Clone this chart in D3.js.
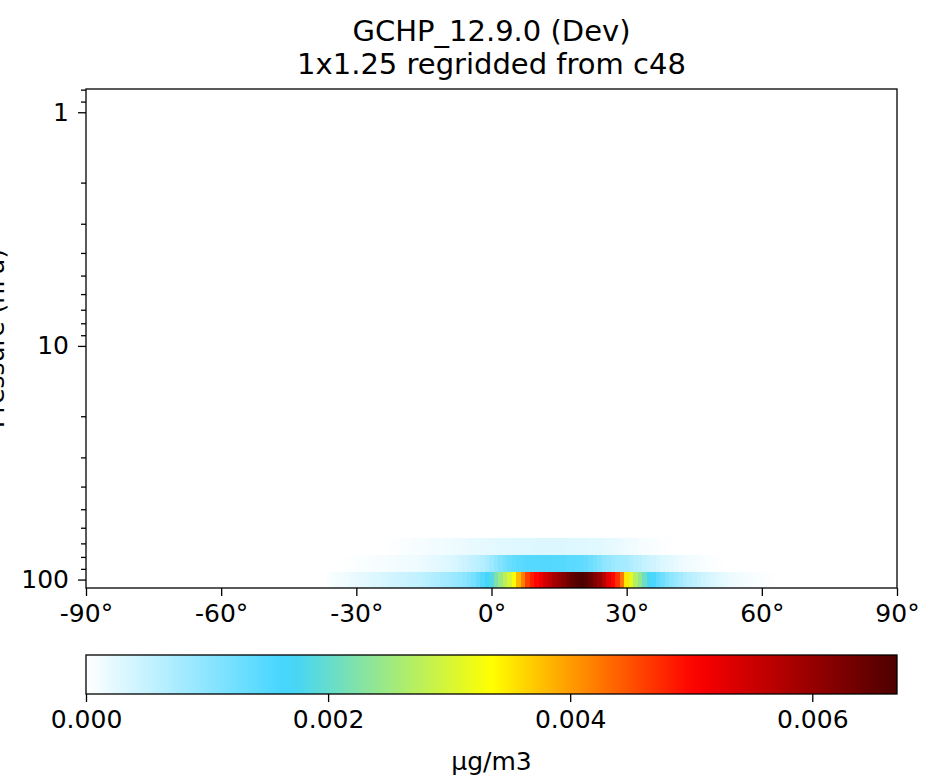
<!DOCTYPE html>
<html>
<head>
<meta charset="utf-8">
<script src="https://cdn.jsdelivr.net/npm/d3@7"></script>
<style>
  body { margin: 0; background: #fff; }
  text { font-family: "DejaVu Sans", sans-serif; }
</style>
</head>
<body>
<div id="chart"></div>
<script>
// ---- data ----
const titleLines = ["GCHP_12.9.0 (Dev)", "1x1.25 regridded from c48"];
const yLabel = "Pressure (hPa)";
const unitLabel = "µg/m3";

const latTicks = [-90, -60, -30, 0, 30, 60, 90];
const pressureMajor = [1, 10, 100];
const pressureMinor = [0.8, 0.9, 2, 3, 4, 5, 6, 7, 8, 9, 20, 30, 40, 50, 60, 70, 80, 90];
const cbarTicks = [0, 0.002, 0.004, 0.006];

// level edges (hPa), bottom of plot up to the top of the plot
const levelEdges = [108.663, 92.366, 78.512, 66.603];
const pressureTop = 0.7951;

// first latitude (cell centre, deg) of each row's values
const rowStartLat = [-36, -32, -22];
// values in 1e-3 µg/m3, one per 1 degree of latitude
const level1 = [0.05, 0.08, 0.1, 0.12, 0.15, 0.18, 0.2, 0.22, 0.25, 0.27, 0.3, 0.32, 0.35, 0.37, 0.4, 0.42, 0.45, 0.48,
  0.5, 0.53, 0.56, 0.6, 0.64, 0.68, 0.72, 0.76, 0.8, 0.85, 0.9, 0.95, 1.02, 1.1, 1.2, 1.35, 1.5, 1.7,
  1.85, 2.2, 2.5, 2.75, 3.0, 3.3, 3.8, 4.2, 4.6, 4.85, 5.0, 5.2, 5.45, 5.65, 5.85, 6.0, 6.15, 6.35, 6.5, 6.6, 6.7,
  6.6, 6.45, 6.2, 6.0, 5.7, 5.3, 5.0, 4.7, 4.25, 3.5, 3.1, 2.7, 2.4, 2.05, 1.75, 1.6, 1.4, 1.25, 1.1, 1.0, 0.9,
  0.8, 0.72, 0.64, 0.57, 0.5, 0.44, 0.38, 0.33, 0.28, 0.24, 0.2, 0.17, 0.14, 0.12, 0.1, 0.08, 0.06, 0.05, 0.04, 0.03, 0.02];
const level2 = [0.02, 0.03, 0.04, 0.05, 0.05, 0.06, 0.07, 0.07, 0.08, 0.09, 0.1, 0.11, 0.12, 0.13, 0.14, 0.15,
  0.16, 0.18, 0.2, 0.22, 0.24, 0.26, 0.29, 0.32, 0.35, 0.4, 0.45, 0.5, 0.55, 0.6, 0.66, 0.74,
  0.85, 0.98, 1.1, 1.2, 1.3, 1.38, 1.42, 1.45, 1.47, 1.48, 1.49, 1.5, 1.5, 1.5, 1.49, 1.48, 1.47, 1.46, 1.45,
  1.43, 1.4, 1.35, 1.28, 1.2, 1.1, 1.0, 0.94, 0.88, 0.82, 0.79, 0.76, 0.7, 0.64, 0.58, 0.52, 0.47, 0.42, 0.37,
  0.32, 0.28, 0.24, 0.2, 0.17, 0.14, 0.12, 0.1, 0.08, 0.06, 0.05, 0.04, 0.03, 0.02];
const level3 = [0.02, 0.03, 0.04, 0.05, 0.06, 0.07, 0.08, 0.09, 0.1, 0.11, 0.12, 0.13, 0.14, 0.15, 0.16, 0.17,
  0.18, 0.19, 0.2, 0.21, 0.22, 0.23,
  0.24, 0.25, 0.26, 0.27, 0.27, 0.28, 0.28, 0.29, 0.29, 0.29, 0.3, 0.3, 0.3, 0.3, 0.3, 0.3, 0.3, 0.29, 0.29,
  0.29, 0.28, 0.28, 0.27, 0.27, 0.26, 0.25, 0.23, 0.21, 0.19, 0.17, 0.15, 0.13, 0.11, 0.09, 0.07, 0.06, 0.05,
  0.04, 0.03, 0.02];
const levels = [level1, level2, level3];

// colormap stops (white - cyan - yellow - red - dark red)
const cmapColors = ["#ffffff", "#40d4ff", "#ffff00", "#ff0000", "#4d0000"];

// ---- layout ----
const width = 944, height = 783;
const plot = { left: 86, right: 897, top: 89, bottom: 588 };
const cbar = { top: 655, bottom: 694 };

const svg = d3.select("#chart").append("svg")
  .attr("width", width)
  .attr("height", height);

const x = d3.scaleLinear().domain([-90, 90]).range([plot.left, plot.right]);
const y = d3.scaleLog().domain([levelEdges[0], pressureTop]).range([plot.bottom, plot.top]);

const vmax = d3.max(levels.flat()) * 1e-3;
const color = d3.scaleLinear()
  .domain(cmapColors.map((c, i) => vmax * i / (cmapColors.length - 1)))
  .range(cmapColors)
  .clamp(true);

// cells
levels.forEach((vals, r) => {
  svg.append("g")
    .attr("shape-rendering", "crispEdges")
    .selectAll("rect")
    .data(vals)
    .join("rect")
      .attr("x", (d, i) => x(Math.max(-90, rowStartLat[r] + i - 0.5)))
      .attr("width", (d, i) => x(rowStartLat[r] + i + 0.5) - x(rowStartLat[r] + i - 0.5) + 0.5)
      .attr("y", y(levelEdges[r + 1]))
      .attr("height", y(levelEdges[r]) - y(levelEdges[r + 1]))
      .attr("fill", d => color(d * 1e-3));
});

// axes
const xAxis = svg.append("g")
  .attr("transform", `translate(0,${plot.bottom})`)
  .call(d3.axisBottom(x).tickValues(latTicks).tickFormat(d => d + "°").tickSize(8).tickPadding(8).tickSizeOuter(0));

const yAxis = svg.append("g")
  .attr("transform", `translate(${plot.left},0)`)
  .call(d3.axisLeft(y).tickValues(pressureMajor).tickFormat(d3.format("d")).tickSize(8).tickPadding(9).tickSizeOuter(0));

const yMinor = svg.append("g")
  .attr("transform", `translate(${plot.left},0)`)
  .call(d3.axisLeft(y).tickValues(pressureMinor).tickFormat("").tickSize(5).tickSizeOuter(0));

[xAxis, yAxis, yMinor].forEach(g => {
  g.select(".domain").remove();
  g.selectAll("line").attr("stroke", "#000").attr("stroke-width", 1.3);
  g.selectAll("text").attr("font-size", 25).attr("fill", "#000").style("font-family", "DejaVu Sans");
});

svg.append("rect")
  .attr("x", plot.left).attr("y", plot.top)
  .attr("width", plot.right - plot.left).attr("height", plot.bottom - plot.top)
  .attr("fill", "none").attr("stroke", "#000").attr("stroke-width", 1.3);

// title
svg.append("g").selectAll("text")
  .data(titleLines)
  .join("text")
    .attr("x", (plot.left + plot.right) / 2)
    .attr("y", (d, i) => 41 + i * 33)
    .attr("text-anchor", "middle")
    .attr("font-size", 29)
    .text(d => d);

// y label (partly off the left edge, as in the original)
svg.append("text")
  .attr("transform", `translate(4,${(plot.top + plot.bottom) / 2}) rotate(-90)`)
  .attr("text-anchor", "middle")
  .attr("font-size", 25)
  .text(yLabel);

// colorbar
const cx = d3.scaleLinear().domain([0, vmax]).range([plot.left, plot.right]);
const grad = svg.append("defs").append("linearGradient").attr("id", "cmap");
grad.selectAll("stop")
  .data(d3.range(0, 1.0001, 0.02))
  .join("stop")
    .attr("offset", d => d)
    .attr("stop-color", d => color(d * vmax));

svg.append("rect")
  .attr("x", plot.left).attr("y", cbar.top)
  .attr("width", plot.right - plot.left).attr("height", cbar.bottom - cbar.top)
  .attr("fill", "url(#cmap)").attr("stroke", "#000").attr("stroke-width", 1.3);

const cAxis = svg.append("g")
  .attr("transform", `translate(0,${cbar.bottom})`)
  .call(d3.axisBottom(cx).tickValues(cbarTicks).tickFormat(d3.format(".3f")).tickSize(8).tickPadding(8).tickSizeOuter(0));
cAxis.select(".domain").remove();
cAxis.selectAll("line").attr("stroke", "#000").attr("stroke-width", 1.3);
cAxis.selectAll("text").attr("font-size", 25).attr("fill", "#000").style("font-family", "DejaVu Sans");

svg.append("text")
  .attr("x", (plot.left + plot.right) / 2)
  .attr("y", 770)
  .attr("text-anchor", "middle")
  .attr("font-size", 25)
  .text(unitLabel);
</script>
</body>
</html>
